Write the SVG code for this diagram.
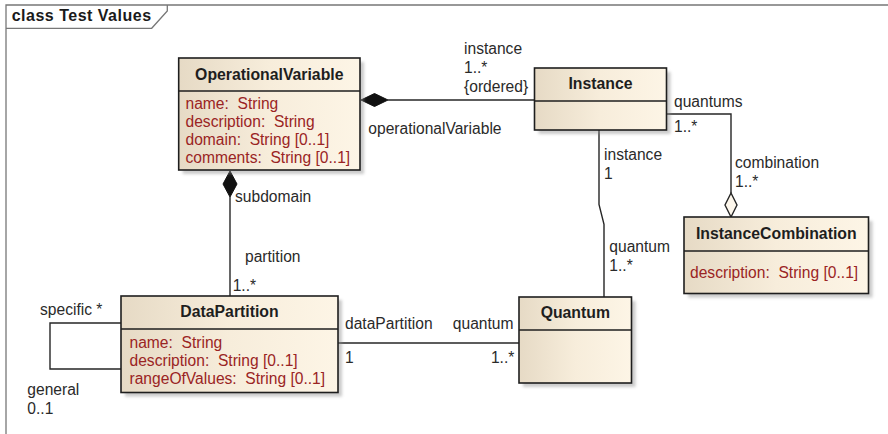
<svg xmlns="http://www.w3.org/2000/svg" width="888" height="434" viewBox="0 0 888 434">
<style>
text{font-family:"Liberation Sans",Arial,sans-serif;font-size:15.6px;fill:#2a2a2a;white-space:pre}
.t{font-weight:bold;font-size:15.8px;text-anchor:middle;fill:#1e1e1e}
.a{fill:#9a2424}
.box{fill:url(#g);stroke:#1e1e1e;stroke-width:1.6}
.sep{stroke:#1e1e1e;stroke-width:1.3}
.sh{fill:#8a8a8a;opacity:0.45;filter:url(#blur)}
.c{fill:none;stroke:#262626;stroke-width:1.4}
.frame{fill:none;stroke:#777;stroke-width:1.3}
</style>
<defs>
<linearGradient id="g" x1="0" y1="0" x2="1" y2="0">
<stop offset="0" stop-color="#e6dac5"/>
<stop offset="0.5" stop-color="#f7eddb"/>
<stop offset="1" stop-color="#fdf5e6"/>
</linearGradient>
<filter id="blur" x="-10%" y="-10%" width="120%" height="120%"><feGaussianBlur stdDeviation="1.6"/></filter>
</defs>
<rect width="888" height="434" fill="#fff"/>
<g id="frame">
<path class="frame" d="M6,434 V5 H888"/>
<path class="frame" d="M6,28.3 H151.7 L167.3,11 V5"/>
<text x="11.7" y="21.3" style="font-weight:bold;font-size:16px;letter-spacing:0.5px;fill:#1a1a1a">class Test Values</text>
</g>
<g id="connectors">
<line class="c" x1="388" y1="100" x2="534.5" y2="100"/>
<polygon points="361,100 374.5,93.5 388,100 374.5,106.5" fill="#111" stroke="#111" stroke-width="1"/>
<line class="c" x1="230" y1="197" x2="230" y2="296"/>
<polygon points="230,171 237,184 230,197 223,184" fill="#111" stroke="#111" stroke-width="1"/>
<polyline class="c" points="666.5,114 731,114 731,193"/>
<polygon points="731,193 737,205 731,217 725,205" fill="#fdf7ec" stroke="#262626" stroke-width="1.4"/>
<polyline class="c" points="599,130 599,204.3 604,224.3 604,297"/>
<line class="c" x1="338" y1="343" x2="519" y2="343"/>
<polyline class="c" points="121,323 50,323 50,369 121,369"/>
<text x="464" y="54">instance</text>
<text x="464" y="73">1..*</text>
<text x="464" y="92">{ordered}</text>
<text x="368.3" y="134.3">operationalVariable</text>
<text x="674" y="107">quantums</text>
<text x="674" y="131.5">1..*</text>
<text x="735" y="168">combination</text>
<text x="735" y="187">1..*</text>
<text x="604" y="160">instance</text>
<text x="604" y="178.5">1</text>
<text x="609.3" y="252">quantum</text>
<text x="609.3" y="271">1..*</text>
<text x="235" y="202">subdomain</text>
<text x="245" y="262">partition</text>
<text x="232.7" y="290.7">1..*</text>
<text x="40" y="315">specific *</text>
<text x="27.3" y="395">general</text>
<text x="27.3" y="414">0..1</text>
<text x="345" y="329.3">dataPartition</text>
<text x="513.5" y="329.3" text-anchor="end">quantum</text>
<text x="345" y="362.7">1</text>
<text x="514.3" y="362.7" text-anchor="end">1..*</text>
</g>
<g id="OperationalVariable">
<rect class="sh" x="182.7" y="62" width="181.3" height="112"/>
<rect class="box" x="178.7" y="58" width="181.3" height="112"/>
<line class="sep" x1="178.7" y1="91" x2="360" y2="91"/>
<text class="t" x="269.3" y="80">OperationalVariable</text>
<text class="a" x="185.5" y="109">name:  String</text>
<text class="a" x="185.5" y="127">description:  String</text>
<text class="a" x="185.5" y="145">domain:  String [0..1]</text>
<text class="a" x="185.5" y="162.5">comments:  String [0..1]</text>
</g>
<g id="Instance">
<rect class="sh" x="538.5" y="72" width="132" height="62"/>
<rect class="box" x="534.5" y="68" width="132" height="62"/>
<line class="sep" x1="534.5" y1="101" x2="666.5" y2="101"/>
<text class="t" x="600.5" y="89">Instance</text>
</g>
<g id="InstanceCombination">
<rect class="sh" x="688" y="221" width="184.5" height="76.5"/>
<rect class="box" x="684" y="217" width="184.5" height="76.5"/>
<line class="sep" x1="684" y1="251" x2="868.5" y2="251"/>
<text class="t" x="776.3" y="239">InstanceCombination</text>
<text class="a" x="690" y="278.3">description:  String [0..1]</text>
</g>
<g id="DataPartition">
<rect class="sh" x="125" y="300" width="217" height="96.5"/>
<rect class="box" x="121" y="296" width="217" height="96.5"/>
<line class="sep" x1="121" y1="329" x2="338" y2="329"/>
<text class="t" x="229.5" y="317">DataPartition</text>
<text class="a" x="129.5" y="348.3">name:  String</text>
<text class="a" x="129.5" y="366">description:  String [0..1]</text>
<text class="a" x="129.5" y="383.5">rangeOfValues:  String [0..1]</text>
</g>
<g id="Quantum">
<rect class="sh" x="523" y="301" width="112.5" height="86"/>
<rect class="box" x="519" y="297" width="112.5" height="86"/>
<line class="sep" x1="519" y1="330" x2="631.5" y2="330"/>
<text class="t" x="575.3" y="318.3">Quantum</text>
</g>
</svg>
